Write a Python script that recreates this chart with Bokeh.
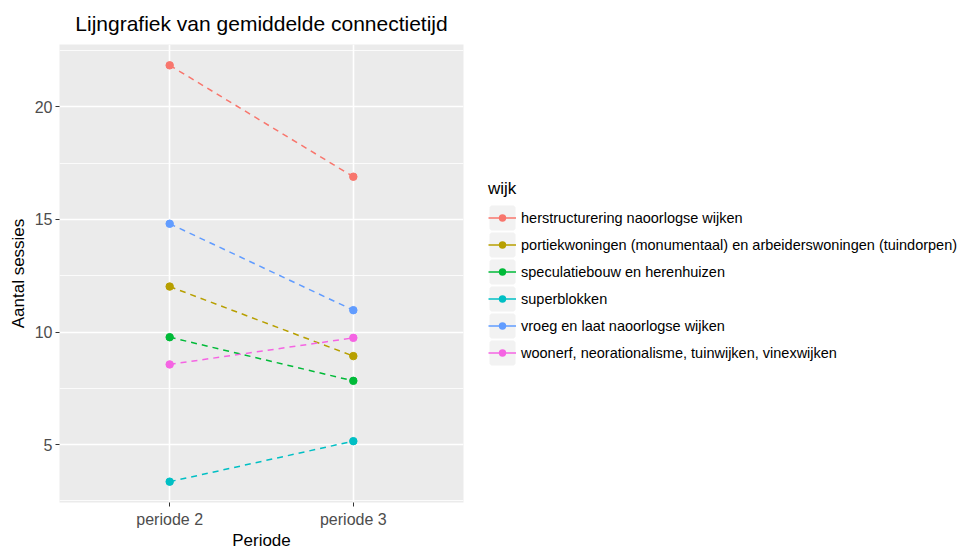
import math
from bokeh.plotting import figure
from bokeh.layouts import row
from bokeh.models import (ColumnDataSource, FactorRange, Range1d, FixedTicker,
                          Legend, LegendItem)
from bokeh.embed import file_html
from bokeh.resources import INLINE

# ---- data -------------------------------------------------------------
periods = ["periode 2", "periode 3"]

wijken = [
    "herstructurering naoorlogse wijken",
    "portiekwoningen (monumentaal) en arbeiderswoningen (tuindorpen)",
    "speculatiebouw en herenhuizen",
    "superblokken",
    "vroeg en laat naoorlogse wijken",
    "woonerf, neorationalisme, tuinwijken, vinexwijken",
]

herstructurering = [21.85, 16.90]
portiekwoningen = [12.02, 8.93]
speculatiebouw = [9.77, 7.83]
superblokken = [3.35, 5.15]
vroeg_laat = [14.81, 10.97]
woonerf = [8.56, 9.74]

series = [herstructurering, portiekwoningen, speculatiebouw,
          superblokken, vroeg_laat, woonerf]

colors = ["#F8766D", "#B79F00", "#00BA38", "#00BFC4", "#619CFF", "#F564E3"]

y_ticks = [5, 10, 15, 20]

# ---- main panel -------------------------------------------------------
all_vals = [v for s in series for v in s]
lo, hi = min(all_vals), max(all_vals)
span = hi - lo

FONT = "Liberation Sans"
DASH = "6 5"
KEY_BG = "#F2F2F2"

p = figure(
    width=470, height=552,
    x_range=FactorRange(factors=periods, range_padding=0.1,
                        range_padding_units="absolute"),
    y_range=Range1d(lo - 0.05 * span, hi + 0.05 * span),
    output_backend="svg", toolbar_location=None,
    min_border_left=59, min_border_right=7,
    min_border_top=44, min_border_bottom=49,
    title="Lijngrafiek van gemiddelde connectietijd",
)

p.background_fill_color = "#EBEBEB"
p.border_fill_color = "white"
p.outline_line_color = None

p.title.text_font = FONT
p.title.text_font_size = "21px"
p.title.text_font_style = "normal"
p.title.text_color = "black"
p.title.align = "center"
p.title.standoff = 19

minor = [t - 2.5 for t in y_ticks] + [y_ticks[-1] + 2.5]
p.yaxis.ticker = FixedTicker(ticks=y_ticks, minor_ticks=minor)

p.xgrid.grid_line_color = "white"
p.xgrid.grid_line_width = 1.6
p.ygrid.grid_line_color = "white"
p.ygrid.grid_line_width = 1.6
p.ygrid.minor_grid_line_color = "white"
p.ygrid.minor_grid_line_width = 0.8

for ax in (p.xaxis[0], p.yaxis[0]):
    ax.axis_line_color = None
    ax.major_tick_line_color = "#333333"
    ax.major_tick_line_width = 1
    ax.major_tick_out = 4
    ax.major_tick_in = 0
    ax.minor_tick_line_color = None
    ax.major_label_text_font = FONT
    ax.major_label_text_font_size = "16px"
    ax.major_label_text_color = "#4D4D4D"
    ax.major_label_standoff = 4
    ax.axis_label_text_font = FONT
    ax.axis_label_text_font_size = "17px"
    ax.axis_label_text_font_style = "normal"
    ax.axis_label_text_color = "black"

p.xaxis.axis_label = "Periode"
p.xaxis.axis_label_standoff = 0
p.yaxis.major_label_standoff = 3
p.yaxis.axis_label = "Aantal sessies"
p.yaxis.axis_label_standoff = 4

for vals, col in zip(series, colors):
    src = ColumnDataSource(dict(x=periods, y=vals))
    p.line(x="x", y="y", source=src, line_color=col, line_width=1.5,
           line_dash=DASH)
    p.scatter(x="x", y="y", source=src, size=7.5, fill_color=col,
              line_color=col)

# ---- legend (guide) ---------------------------------------------------
lg = figure(
    width=491, height=552, x_range=Range1d(0, 1), y_range=Range1d(0, 1),
    x_axis_type=None, y_axis_type=None, output_backend="svg",
    toolbar_location=None, min_border=0,
)
lg.outline_line_color = None
lg.background_fill_color = "white"
lg.border_fill_color = "white"

nan_src = ColumnDataSource(dict(x=[math.nan], y=[math.nan]))
# grey key square (its own stroke widens it to the full key size)
key_bg = lg.rect(x="x", y="y", width=1, height=1, source=nan_src,
                 fill_color=KEY_BG, line_color=KEY_BG, line_width=3.6)

items = []
for name, col in zip(wijken, colors):
    # dot: coloured disc, outer part masked with the key colour
    dt = lg.scatter(x="x", y="y", source=nan_src, fill_color=col,
                    line_color=KEY_BG, line_width=3.4)
    ln = lg.line(x="x", y="y", source=nan_src, line_color=col,
                 line_width=1.5)
    items.append(LegendItem(label=name, renderers=[key_bg, dt, ln]))

legend = Legend(
    items=items, location=(18, 136), title="wijk",
    glyph_width=28, glyph_height=27, spacing=0, padding=0, margin=0,
    label_standoff=5, label_text_font=FONT, label_text_font_size="14.5px",
    label_text_color="black",
    title_text_font=FONT, title_text_font_size="17px",
    title_text_font_style="normal", title_text_color="black",
    title_standoff=5,
    border_line_color=None, background_fill_alpha=0,
)
lg.add_layout(legend, "center")

layout = row(p, lg)
open("out.html", "w").write(file_html(layout, INLINE))
